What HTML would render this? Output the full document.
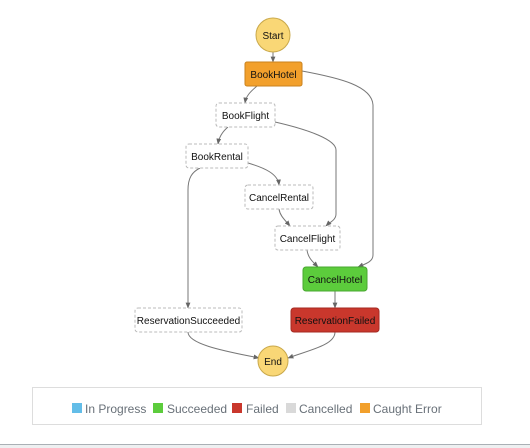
<!DOCTYPE html>
<html><head><meta charset="utf-8"><style>
html,body{margin:0;padding:0;background:#fff;}
svg{display:block;font-family:"Liberation Sans",sans-serif;}
</style></head><body>
<svg width="530" height="448" viewBox="0 0 530 448" xmlns="http://www.w3.org/2000/svg">
<defs>
<marker id="a" viewBox="0 0 10 10" refX="9" refY="5" markerWidth="6" markerHeight="6" orient="auto"><path d="M0,1 L10,5 L0,9 z" fill="#666"/></marker>
</defs>
<g fill="none" stroke="#777" stroke-width="1" marker-end="url(#a)">
<path d="M273,52 L273,62"/>
<path d="M257,86 C250,92 246,96 245,103"/>
<path d="M302,71 C340,78 372,86 373,105 L373,255 C373,262 365,264 358,267"/>
<path d="M228,127 C222,132 219,137 218,144"/>
<path d="M275,122 C310,130 336,140 336,150 L336,214 C336,220 330,222 326,226"/>
<path d="M200,168 C192,172 188,178 188,190 L188,308"/>
<path d="M248,163 C265,168 278,174 279,185"/>
<path d="M279,209 C280,216 285,220 290,226"/>
<path d="M307,250 C308,258 313,262 318,267"/>
<path d="M335,291 L335,308"/>
<path d="M188,332 C188,345 230,352 259,358"/>
<path d="M335,332 C335,345 310,350 288,358"/>
</g>
<circle cx="273" cy="35" r="17" fill="#f9d776" stroke="#c9a84a"/>
<text x="273" y="39" text-anchor="middle" font-size="10" fill="#111">Start</text>
<rect x="245" y="62" width="57" height="24" rx="2" fill="#f2a02c" stroke="#c9821e"/>
<text x="273.5" y="78" text-anchor="middle" font-size="10" fill="#111">BookHotel</text>
<g fill="#fff" stroke="#bbb" stroke-dasharray="3,2">
<rect x="216" y="103" width="59" height="24" rx="3"/>
<rect x="186" y="144" width="62" height="24" rx="3"/>
<rect x="245" y="185" width="68" height="24" rx="3"/>
<rect x="275" y="226" width="65" height="24" rx="3"/>
<rect x="135" y="308" width="107" height="24" rx="3"/>
</g>
<g font-size="10" fill="#111" text-anchor="middle">
<text x="245.5" y="119">BookFlight</text>
<text x="217" y="160">BookRental</text>
<text x="279" y="201">CancelRental</text>
<text x="307.5" y="242">CancelFlight</text>
<text x="188.5" y="324">ReservationSucceeded</text>
</g>
<rect x="303" y="267" width="64" height="24" rx="3" fill="#5ccc3c" stroke="#48a830"/>
<text x="335" y="283" text-anchor="middle" font-size="10" fill="#111">CancelHotel</text>
<rect x="291" y="308" width="88" height="24" rx="3" fill="#c9372c" stroke="#a52a22"/>
<text x="335" y="324" text-anchor="middle" font-size="10" fill="#111">ReservationFailed</text>
<circle cx="273" cy="361" r="15" fill="#f9d776" stroke="#c9a84a"/>
<text x="273" y="365" text-anchor="middle" font-size="10" fill="#111">End</text>
<rect x="32.5" y="387.5" width="449" height="37" fill="#fff" stroke="#ddd"/>
<g font-size="12" fill="#687078">
<rect x="72" y="403" width="10" height="10" fill="#63bde8"/>
<text x="85" y="413">In Progress</text>
<rect x="153" y="403" width="10" height="10" fill="#5ccc3c"/>
<text x="167" y="413">Succeeded</text>
<rect x="232" y="403" width="10" height="10" fill="#c9372c"/>
<text x="246" y="413">Failed</text>
<rect x="286" y="403" width="10" height="10" fill="#d9d9d9"/>
<text x="299" y="413">Cancelled</text>
<rect x="360" y="403" width="10" height="10" fill="#f2a02c"/>
<text x="373" y="413">Caught Error</text>
</g>
<rect x="0" y="444" width="530" height="1" fill="#aab0b5"/>
<rect x="0" y="445" width="530" height="3" fill="#eef0f1"/>
</svg>
</body></html>
